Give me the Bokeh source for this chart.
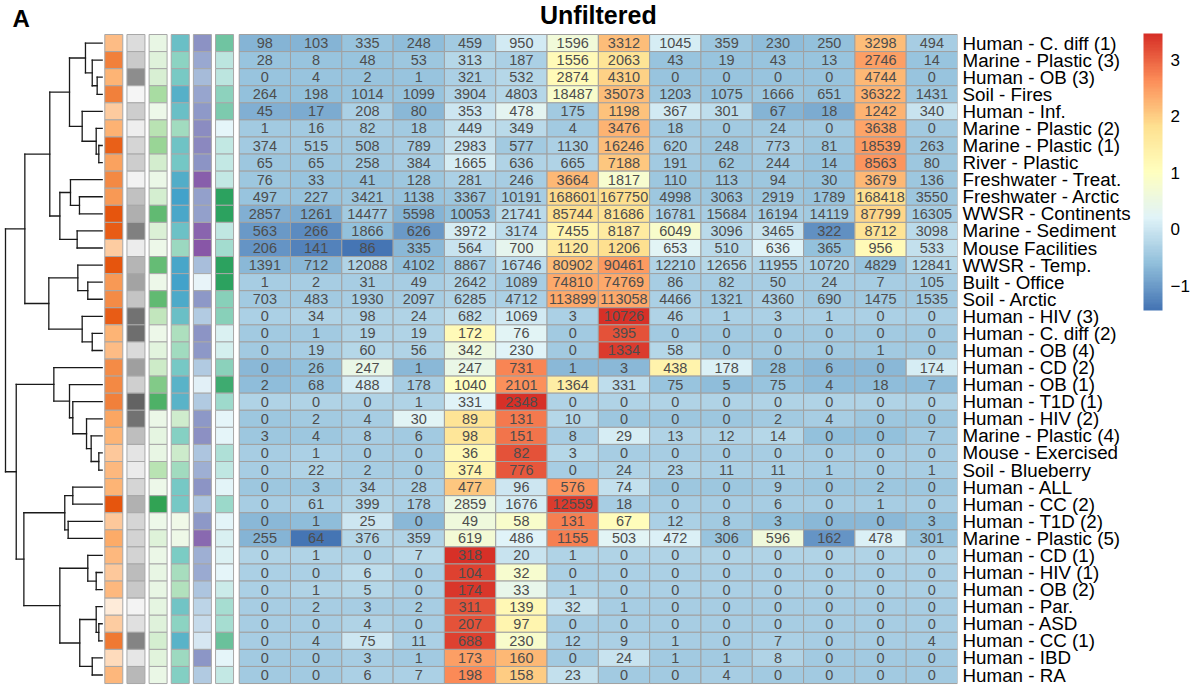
import numpy as np
from bokeh.plotting import figure
from bokeh.models import (Range1d, LinearColorMapper, ColorBar, FixedTicker,
                          Label, ColumnDataSource)
from bokeh.core.properties import value
from bokeh.embed import file_html
from bokeh.resources import INLINE

# ---------------- data ----------------
row_labels = [
    "Human - C. diff (1)", "Marine - Plastic (3)", "Human - OB (3)", "Soil - Fires",
    "Human - Inf.", "Marine - Plastic (2)", "Marine - Plastic (1)", "River - Plastic",
    "Freshwater - Treat.", "Freshwater - Arctic", "WWSR - Continents", "Marine - Sediment",
    "Mouse Facilities", "WWSR - Temp.", "Built - Office", "Soil - Arctic",
    "Human - HIV (3)", "Human - C. diff (2)", "Human - OB (4)", "Human - CD (2)",
    "Human - OB (1)", "Human - T1D (1)", "Human - HIV (2)", "Marine - Plastic (4)",
    "Mouse - Exercised", "Soil - Blueberry", "Human - ALL", "Human - CC (2)",
    "Human - T1D (2)", "Marine - Plastic (5)", "Human - CD (1)", "Human - HIV (1)",
    "Human - OB (2)", "Human - Par.", "Human - ASD", "Human - CC (1)",
    "Human - IBD", "Human - RA",
]

r01 = [98, 103, 335, 248, 459, 950, 1596, 3312, 1045, 359, 230, 250, 3298, 494]
r02 = [28, 8, 48, 53, 313, 187, 1556, 2063, 43, 19, 43, 13, 2746, 14]
r03 = [0, 4, 2, 1, 321, 532, 2874, 4310, 0, 0, 0, 0, 4744, 0]
r04 = [264, 198, 1014, 1099, 3904, 4803, 18487, 35073, 1203, 1075, 1666, 651, 36322, 1431]
r05 = [45, 17, 208, 80, 353, 478, 175, 1198, 367, 301, 67, 18, 1242, 340]
r06 = [1, 16, 82, 18, 449, 349, 4, 3476, 18, 0, 24, 0, 3638, 0]
r07 = [374, 515, 508, 789, 2983, 577, 1130, 16246, 620, 248, 773, 81, 18539, 263]
r08 = [65, 65, 258, 384, 1665, 636, 665, 7188, 191, 62, 244, 14, 8563, 80]
r09 = [76, 33, 41, 128, 281, 246, 3664, 1817, 110, 113, 94, 30, 3679, 136]
r10 = [497, 227, 3421, 1138, 3367, 10191, 168601, 167750, 4998, 3063, 2919, 1789, 168418, 3550]
r11 = [2857, 1261, 14477, 5598, 10053, 21741, 85744, 81686, 16781, 15684, 16194, 14119, 87799, 16305]
r12 = [563, 266, 1866, 626, 3972, 3174, 7455, 8187, 6049, 3096, 3465, 322, 8712, 3098]
r13 = [206, 141, 86, 335, 564, 700, 1120, 1206, 653, 510, 636, 365, 956, 533]
r14 = [1391, 712, 12088, 4102, 8867, 16746, 80902, 90461, 12210, 12656, 11955, 10720, 4829, 12841]
r15 = [1, 2, 31, 49, 2642, 1089, 74810, 74769, 86, 82, 50, 24, 7, 105]
r16 = [703, 483, 1930, 2097, 6285, 4712, 113899, 113058, 4466, 1321, 4360, 690, 1475, 1535]
r17 = [0, 34, 98, 24, 682, 1069, 3, 10726, 46, 1, 3, 1, 0, 0]
r18 = [0, 1, 19, 19, 172, 76, 0, 395, 0, 0, 0, 0, 0, 0]
r19 = [0, 19, 60, 56, 342, 230, 0, 1334, 58, 0, 0, 0, 1, 0]
r20 = [0, 26, 247, 1, 247, 731, 1, 3, 438, 178, 28, 6, 0, 174]
r21 = [2, 68, 488, 178, 1040, 2101, 1364, 331, 75, 5, 75, 4, 18, 7]
r22 = [0, 0, 0, 1, 331, 2348, 0, 0, 0, 0, 0, 0, 0, 0]
r23 = [0, 2, 4, 30, 89, 131, 10, 0, 0, 0, 2, 4, 0, 0]
r24 = [3, 4, 8, 6, 98, 151, 8, 29, 13, 12, 14, 0, 0, 7]
r25 = [0, 1, 0, 0, 36, 82, 3, 0, 0, 0, 0, 0, 0, 0]
r26 = [0, 22, 2, 0, 374, 776, 0, 24, 23, 11, 11, 1, 0, 1]
r27 = [0, 3, 34, 28, 477, 96, 576, 74, 0, 0, 9, 0, 2, 0]
r28 = [0, 61, 399, 178, 2859, 1676, 12559, 18, 0, 0, 6, 0, 1, 0]
r29 = [0, 1, 25, 0, 49, 58, 131, 67, 12, 8, 3, 0, 0, 3]
r30 = [255, 64, 376, 359, 619, 486, 1155, 503, 472, 306, 596, 162, 478, 301]
r31 = [0, 1, 0, 7, 318, 20, 1, 0, 0, 0, 0, 0, 0, 0]
r32 = [0, 0, 6, 0, 104, 32, 0, 0, 0, 0, 0, 0, 0, 0]
r33 = [0, 1, 5, 0, 174, 33, 1, 0, 0, 0, 0, 0, 0, 0]
r34 = [0, 2, 3, 2, 311, 139, 32, 1, 0, 0, 0, 0, 0, 0]
r35 = [0, 0, 4, 0, 207, 97, 0, 0, 0, 0, 0, 0, 0, 0]
r36 = [0, 4, 75, 11, 688, 230, 12, 9, 1, 0, 7, 0, 0, 4]
r37 = [0, 0, 3, 1, 173, 160, 0, 24, 1, 1, 8, 0, 0, 0]
r38 = [0, 0, 6, 7, 198, 158, 23, 0, 0, 4, 0, 0, 0, 0]

rows = [r01, r02, r03, r04, r05, r06, r07, r08, r09, r10, r11, r12, r13, r14, r15, r16,
        r17, r18, r19, r20, r21, r22, r23, r24, r25, r26, r27, r28, r29, r30, r31, r32,
        r33, r34, r35, r36, r37, r38]

# row annotations (relative level 0..1 of each annotation track)
ann_1 = [0.38, 0.75, 0.45, 0.75, 0.26, 0.46, 0.94, 0.56, 0.70, 0.61,
         1.00, 0.95, 0.25, 1.00, 0.61, 0.69, 0.95, 0.45, 0.38, 0.69,
         0.70, 0.75, 0.54, 0.45, 0.29, 0.41, 0.45, 1.00, 0.29, 0.51,
         0.41, 0.29, 0.41, 0.00, 0.25, 0.79, 0.13, 0.42]
ann_2 = [0.22, 0.38, 0.76, 0.00, 0.35, 0.06, 0.29, 0.35, 0.03, 0.46,
         0.58, 0.83, 0.08, 0.54, 0.64, 0.43, 0.91, 0.94, 0.24, 0.66,
         0.34, 0.99, 0.91, 0.49, 0.15, 0.09, 0.28, 0.57, 0.28, 0.30,
         0.30, 0.50, 0.40, 0.02, 0.19, 0.81, 0.13, 0.52]
ann_3 = [0.03, 0.09, 0.14, 0.45, 0.00, 0.34, 0.53, 0.17, 0.01, 0.16,
         0.78, 0.12, 0.00, 0.76, 0.00, 0.78, 0.28, 0.00, 0.07, 0.21,
         0.63, 0.86, 0.01, 0.05, 0.03, 0.34, 0.00, 1.00, 0.00, 0.10,
         0.01, 0.03, 0.03, 0.05, 0.09, 0.16, 0.08, 0.02]
ann_4 = [0.76, 0.58, 0.68, 0.88, 0.76, 0.47, 0.73, 0.70, 0.90, 0.99,
         0.95, 0.75, 0.49, 0.96, 1.00, 0.93, 0.76, 0.40, 0.47, 0.69,
         0.86, 0.86, 0.20, 0.61, 0.22, 0.46, 0.69, 0.69, 0.00, 0.01,
         0.66, 0.43, 0.37, 0.72, 0.58, 0.86, 0.48, 0.62]
ann_5 = [0.68, 0.55, 0.44, 0.58, 0.64, 0.71, 0.73, 0.67, 0.95, 0.60,
         0.60, 0.92, 1.00, 0.42, 0.03, 0.65, 0.34, 0.67, 0.65, 0.35,
         0.06, 0.35, 0.65, 0.69, 0.38, 0.51, 0.67, 0.38, 0.65, 0.89,
         0.51, 0.54, 0.38, 0.28, 0.22, 0.13, 0.66, 0.35]
ann_6 = [0.68, 0.27, 0.27, 0.55, 0.62, 0.00, 0.23, 0.22, 0.22, 1.00,
         1.00, 0.24, 0.43, 1.00, 1.00, 0.58, 0.58, 0.07, 0.11, 0.56,
         0.91, 0.46, 0.00, 0.00, 0.35, 0.24, 0.01, 0.48, 0.01, 0.08,
         0.06, 0.00, 0.17, 0.41, 0.41, 0.71, 0.00, 0.22]

# row dendrogram: [merge height, left, right]; ints are row indices (0-based)
tree_a = [1.73, 0, [1.03, 1, [0.52, 2, 3]]]
tree_b = [2.07, 4, [0.62, 5, [0.35, 6, 7]]]
tree_c = [4.38, [3.28, 8, [2.35, 9, 10]], [2.59, 11, 12]]
tree_f = [5.52, [2.52, 13, [1.49, 14, 15]], [2.07, 16, [1.03, 17, 18]]]
tree_d = [5.00, 19, [3.38, 20, [3.04, 21, [1.62, 22, [1.14, 23, [0.35, 24, 25]]]]]]
tree_e1 = [3.87, [3.04, 26, 27], [3.52, 28, 29]]
tree_e2 = [4.38, [1.49, 30, [0.62, 31, 32]], [2.32, [0.62, 33, [0.35, 34, 35]], [1.03, 36, 37]]]
row_tree = [10.0,
            [8.0, [5.42, [3.38, tree_a, tree_b], tree_c], tree_f],
            [8.89, tree_d, [8.1, tree_e1, tree_e2]]]

# ---------------- layout helpers (page pixels -> data units) ----------------
N_ROWS, N_COLS = len(rows), len(rows[0])
COL_PX = 51.31
ROW_PX = 17.08
HEAT_LEFT = 238.7
HEAT_TOP = 34.0
W, H = 1190, 686
FRAME_RIGHT = HEAT_LEFT + N_COLS * COL_PX


def px_x(px):
    return -0.5 + (px - HEAT_LEFT) / COL_PX


def px_y(py):
    return -0.5 + (py - HEAT_TOP) / ROW_PX


def ramp(stops, n=100):
    rgb = np.array([[int(s[i:i + 2], 16) for i in (1, 3, 5)] for s in stops], float)
    pos = np.linspace(0, 1, len(stops))
    out = []
    for t in np.linspace(0, 1, n):
        c = [int(round(np.interp(t, pos, rgb[:, k]))) for k in range(3)]
        out.append("#%02x%02x%02x" % tuple(c))
    return out


FONT = value("Liberation Sans")

p = figure(width=W, height=H, output_backend="svg", toolbar_location=None,
           x_range=Range1d(px_x(0), N_COLS - 0.5),
           y_range=Range1d(px_y(H), px_y(0)),
           x_axis_location=None, y_axis_location="right",
           min_border_left=0, min_border_right=int(round(W - FRAME_RIGHT)),
           min_border_top=0, min_border_bottom=0)
p.outline_line_color = None
p.grid.visible = False
p.background_fill_color = "white"
p.border_fill_color = "white"

# ---------------- heatmap ----------------
mat = np.array(rows, float)
z = (mat - mat.mean(axis=1, keepdims=True)) / mat.std(axis=1, ddof=1, keepdims=True)
heat_pal = ramp(["#4575B4", "#91BFDB", "#E0F3F8", "#FFFFBF", "#FEE090", "#FC8D59", "#D73027"])
heat_map = LinearColorMapper(palette=heat_pal, low=float(z.min()), high=float(z.max()))

xs, ys, zs, txt = [], [], [], []
for i in range(N_ROWS):
    for j in range(N_COLS):
        xs.append(j)
        ys.append(i)
        zs.append(float(z[i, j]))
        txt.append(str(rows[i][j]))
src = ColumnDataSource(dict(x=xs, y=ys, z=zs, t=txt))
p.rect(x="x", y="y", width=1, height=1, source=src,
       fill_color={"field": "z", "transform": heat_map},
       line_color="#A0A0A0", line_width=1)
p.text(x="x", y="y", text="t", source=src, text_align="center", text_baseline="middle",
       text_font=FONT, text_font_size="14.5px", text_color="#4D4D4D")

# ---------------- annotation tracks ----------------
ann_tracks = [ann_1, ann_2, ann_3, ann_4, ann_5, ann_6]
ann_pals = [
    ["#FEEBD9", "#FDAE6B", "#E6550D"],
    ["#F5F5F5", "#BDBDBD", "#636363"],
    ["#EDF8E9", "#A1D99B", "#31A354"],
    ["#F0F9E8", "#BAE4BC", "#7BCCC4", "#43A2CA"],
    ["#EDF8FB", "#B3CDE3", "#8C96C6", "#8856A7"],
    ["#E5F5F9", "#99D8C9", "#2CA25F"],
]
ANN_W = 18.0
ANN_PITCH = 22.15
ANN_C0 = 113.3
for k, (vals, pal) in enumerate(zip(ann_tracks, ann_pals)):
    cx = px_x(ANN_C0 + k * ANN_PITCH)
    m = LinearColorMapper(palette=ramp(pal), low=0.0, high=1.0)
    s = ColumnDataSource(dict(x=[cx] * N_ROWS, y=list(range(N_ROWS)), v=vals))
    p.rect(x="x", y="y", width=ANN_W / COL_PX, height=1, source=s,
           fill_color={"field": "v", "transform": m}, line_color="#A8A8A8", line_width=1)

# ---------------- dendrogram ----------------
LEAF_PX = 101.7
ROOT_PX = 5.0
root_h = row_tree[0]
seg = dict(x0=[], y0=[], x1=[], y1=[])


def hx(h):
    return px_x(LEAF_PX - h / root_h * (LEAF_PX - ROOT_PX))


def walk(node):
    if isinstance(node, int):
        return float(node), 0.0
    h, left, right = node
    yl, hl = walk(left)
    yr, hr = walk(right)
    for (a0, b0, a1, b1) in ((hx(h), yl, hx(h), yr), (hx(hl), yl, hx(h), yl), (hx(hr), yr, hx(h), yr)):
        seg["x0"].append(a0); seg["y0"].append(b0); seg["x1"].append(a1); seg["y1"].append(b1)
    return (yl + yr) / 2.0, h


walk(row_tree)
p.segment(x0="x0", y0="y0", x1="x1", y1="y1", source=ColumnDataSource(seg),
          line_color="#1A1A1A", line_width=1.3, line_cap="square")

# ---------------- axis with row names ----------------
ax = p.yaxis[0]
ax.ticker = FixedTicker(ticks=list(range(N_ROWS)))
ax.major_label_overrides = {i: lab for i, lab in enumerate(row_labels)}
ax.axis_line_color = None
ax.major_tick_line_color = None
ax.minor_tick_line_color = None
ax.major_tick_out = 0
ax.major_tick_in = 0
ax.major_label_standoff = 5
ax.major_label_text_font = "Liberation Sans"
ax.major_label_text_font_size = "18.8px"
ax.major_label_text_color = "black"

# ---------------- colour legend ----------------
BAR_LEFT, BAR_BOTTOM = 1143, 310
cb = ColorBar(color_mapper=heat_map, ticker=FixedTicker(ticks=[-1, 0, 1, 2, 3]),
              width=19, height=277, location=(BAR_LEFT, H - BAR_BOTTOM), padding=0, margin=0,
              label_standoff=8, major_tick_line_color=None, bar_line_color=None,
              border_line_color=None, background_fill_color=None,
              major_label_text_font="Liberation Sans", major_label_text_font_size="17px",
              major_label_text_color="black")
p.add_layout(cb)

# ---------------- titles ----------------
p.add_layout(Label(x=(N_COLS - 1) / 2.0, y=px_y(14), text="Unfiltered", text_align="center",
                   text_baseline="middle", text_font="Liberation Sans", text_font_style="bold",
                   text_font_size="25px", text_color="black"))
p.add_layout(Label(x=px_x(12), y=px_y(18), text="A", text_align="left",
                   text_baseline="middle", text_font="Liberation Sans", text_font_style="bold",
                   text_font_size="24px", text_color="black"))

open("out.html", "w").write(file_html(p, INLINE))
